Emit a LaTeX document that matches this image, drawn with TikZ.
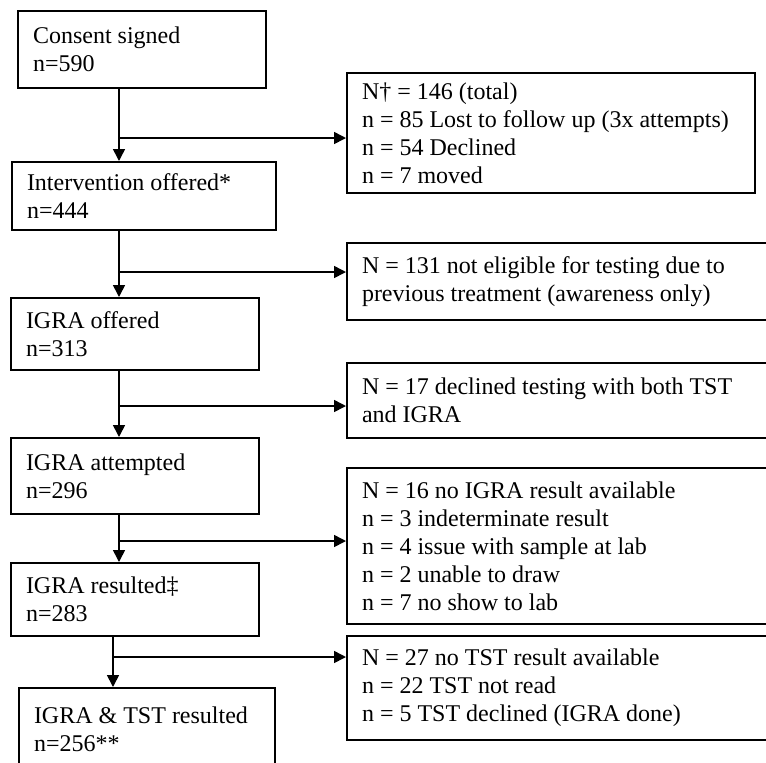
\documentclass[tikz,border=0pt]{standalone}
\usepackage{fontspec}
\setmainfont{Liberation Serif}
\usetikzlibrary{arrows.meta}

\begin{document}
\begin{tikzpicture}[x=0.5pt, y=-0.5pt, >={Triangle[length=6pt,width=6pt]},
  box/.style={draw, line width=1pt, anchor=north west, align=flush left,
    inner xsep=7.5pt, inner ysep=0pt, font=\fontsize{12}{14}\selectfont},
  flow/.style={->, line width=0.8pt}]

  \clip (0,0) rectangle (766,762);

  % main stream
  \node[box, text width=109pt, minimum height=38.5pt] (consent) at (17,10)  {Consent signed\\n=590};
  \node[box, text width=117pt, minimum height=34pt]   (interv)  at (11,161) {Intervention offered*\\n=444};
  \node[box, text width=109pt, minimum height=36pt]   (igraoff) at (10,297) {IGRA offered\\n=313};
  \node[box, text width=109pt, minimum height=38pt]   (igraatt) at (10,437) {IGRA attempted\\n=296};
  \node[box, text width=109pt, minimum height=36.5pt] (igrares) at (10,562) {IGRA resulted‡\\n=283};
  \node[box, text width=113pt, minimum height=41.5pt] (both)    at (18,687) {IGRA \& TST resulted\\n=256**};

  % exclusions
  \node[box, text width=189pt, minimum height=60pt]   (lost)     at (346,72)  {N† = 146 (total)\\n = 85 Lost to follow up (3x attempts)\\n = 54 Declined\\n = 7 moved};
  \node[box, text width=202pt, minimum height=38.5pt] (noteli)   at (346,242) {N = 131 not eligible for testing due to\\previous treatment (awareness only)};
  \node[box, text width=202pt, minimum height=37.5pt] (declined) at (346,362) {N = 17 declined testing with both TST\\and IGRA};
  \node[box, text width=202pt, minimum height=78pt]   (noigra)   at (346,467) {N = 16 no IGRA result available\\n = 3 indeterminate result\\n = 4 issue with sample at lab\\n = 2 unable to draw\\n = 7 no show to lab};
  \node[box, text width=202pt, minimum height=52pt]   (notst)    at (346,635) {N = 27 no TST result available\\n = 22 TST not read\\n = 5 TST declined (IGRA done)};

  % branch points
  \coordinate (b1) at (119,138);
  \coordinate (b2) at (119,272);
  \coordinate (b3) at (119,406);
  \coordinate (b4) at (119,541);
  \coordinate (b5) at (113,657);

  \draw[flow] (consent.south -| b1) -- (interv.north -| b1);
  \draw[flow] (b1) -- (b1 -| lost.west);
  \draw[flow] (interv.south -| b2) -- (igraoff.north -| b2);
  \draw[flow] (b2) -- (b2 -| noteli.west);
  \draw[flow] (igraoff.south -| b3) -- (igraatt.north -| b3);
  \draw[flow] (b3) -- (b3 -| declined.west);
  \draw[flow] (igraatt.south -| b4) -- (igrares.north -| b4);
  \draw[flow] (b4) -- (b4 -| noigra.west);
  \draw[flow] (igrares.south -| b5) -- (both.north -| b5);
  \draw[flow] (b5) -- (b5 -| notst.west);
\end{tikzpicture}
\end{document}
